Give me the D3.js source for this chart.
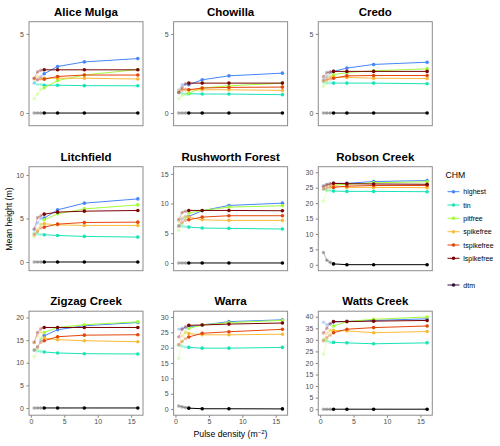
<!DOCTYPE html>
<html><head><meta charset="utf-8">
<script src="https://cdn.jsdelivr.net/npm/d3@7"></script>
<style>body{margin:0;background:#fff}svg{display:block;font-family:"Liberation Sans",Arial,Helvetica,sans-serif}</style>
</head><body>
<svg id="c" width="500" height="446"></svg>
<script>
// ---- data ----
const sites = ["Alice Mulga","Chowilla","Credo","Litchfield","Rushworth Forest","Robson Creek","Zigzag Creek","Warra","Watts Creek"];
const densities = [0.5, 1, 1.5, 2, 4, 8, 16];   // pulse density (m^-2); first three are faded
const fadedBelow = 2;
const chmNames = ["highest","tin","pitfree","spikefree","tspikefree","lspikefree","dtm"];
const chmColors = ["#4686FB","#1AE4B6","#A2FC3C","#FABA39","#E4460A","#7A0403","#30123B"];
// per-site domains of mean height axis
const yDomains = [[-0.8,5.77],[-0.8,5.77],[-0.8,5.77],[-1.0,10.95],[-1.3,16.2],[-1.9,31.8],[-1.6,21.4],[-2.0,31.9],[-2.6,42.4]];
const yTickStep = 5;
const xTicks = [0,5,10,15];

const highest = [
 [1.9,2.1,2.3,2.48,2.94,3.23,3.44],
 [1.45,1.8,1.8,1.79,2.1,2.35,2.52],
 [2.1,2.3,2.55,2.63,2.84,3.07,3.21],
 [3.7,4.5,5.0,5.04,5.99,6.76,7.25],
 [6.2,7.4,7.8,7.83,8.79,9.68,10.07],
 [25.5,26.0,26.3,26.4,26.4,27.0,27.3],
 [12.8,13.5,15.0,15.97,17.3,18.17,18.9],
 [26.0,26.3,26.5,26.75,27.4,28.5,29.1],
 [37.6,36.5,37.0,37.7,38.0,38.4,39.1]];
const tin = [
 [1.9,1.8,1.8,1.76,1.76,1.73,1.72],
 [1.3,1.25,1.2,1.22,1.2,1.2,1.16],
 [1.95,1.9,1.9,1.89,1.89,1.89,1.85],
 [3.3,3.2,3.15,3.13,3.05,2.94,2.86],
 [6.3,6.2,6.1,6.04,5.88,5.82,5.71],
 [24.5,24.2,24.0,23.9,23.8,23.8,23.7],
 [12.8,12.6,12.5,12.38,12.16,12.0,11.94],
 [20.8,20.5,20.2,20.1,19.85,19.85,20.1],
 [30.0,29.5,29.0,28.9,28.7,28.3,28.7]];
const pitfree = [
 [0.9,1.2,1.5,1.6,2.05,2.4,2.75],
 [0.9,1.1,1.2,1.26,1.58,1.72,1.89],
 [1.7,2.0,2.3,2.42,2.56,2.67,2.79],
 [2.9,3.5,4.3,4.85,5.53,6.1,6.56],
 [5.5,6.6,7.5,8.4,8.84,9.4,9.63],
 [20.7,24.0,25.0,25.9,26.1,26.6,26.9],
 [11.3,13.0,15.5,16.7,17.8,18.4,19.05],
 [16.5,22.0,25.0,26.3,27.4,28.2,28.9],
 [23.8,30.0,34.0,36.0,37.9,38.9,39.9]];
const spikefree = [
 [2.1,2.3,2.2,2.2,2.2,2.2,2.15],
 [1.4,1.5,1.45,1.47,1.47,1.47,1.43],
 [2.0,2.2,2.3,2.27,2.25,2.2,2.18],
 [3.2,3.8,4.3,4.39,4.27,4.2,4.2],
 [7.0,7.6,7.8,7.72,7.27,7.16,7.16],
 [25.0,25.8,26.0,25.7,25.1,25.1,25.0],
 [14.5,16.0,16.8,15.46,15.1,14.87,14.65],
 [21.0,24.0,25.0,24.6,24.2,24.2,24.4],
 [30.0,33.0,34.0,34.1,33.9,33.1,33.6]];
const tspikefree = [
 [2.2,2.1,2.15,2.14,2.31,2.4,2.4],
 [1.3,1.45,1.5,1.47,1.58,1.62,1.64],
 [2.05,2.1,2.15,2.2,2.35,2.37,2.37],
 [3.1,3.5,3.9,4.0,4.35,4.54,4.58],
 [6.2,6.8,7.2,7.27,7.72,7.95,7.95],
 [24.5,25.0,25.2,25.1,25.5,25.7,25.7],
 [12.8,13.5,14.5,14.87,15.75,16.1,16.2],
 [21.0,22.0,23.0,23.5,24.7,25.2,26.0],
 [29.5,31.0,32.0,33.1,34.6,35.3,36.0]];
const lspikefree = [
 [2.2,2.6,2.7,2.73,2.73,2.73,2.73],
 [1.3,1.6,1.85,1.89,1.89,1.89,1.89],
 [2.3,2.55,2.6,2.63,2.63,2.63,2.63],
 [3.8,5.1,5.3,5.5,5.73,5.84,5.92],
 [7.3,8.5,8.7,8.84,8.84,8.84,8.79],
 [25.5,26.0,26.2,26.4,26.3,26.2,26.1],
 [14.5,16.7,17.5,17.8,17.8,17.8,17.8],
 [23.5,26.0,26.8,27.3,27.4,27.7,28.05],
 [33.0,35.0,37.0,37.9,37.9,38.1,38.4]];
const dtm = [
 [0,0,0,0,0,0,0],
 [0,0,0,0,0,0,0],
 [0,0,0,0,0,0,0],
 [0,0,0,0,0,0,0],
 [0,0,0,0,0,0,0],
 [4.0,1.5,0.8,0.3,0.05,0.05,0.05],
 [0,0,0,0,0,0,0],
 [1.0,0.7,0.5,0.3,0.1,0.1,0.05],
 [0,0,0,0,0,0,0]];
const chmValues = [highest,tin,pitfree,spikefree,tspikefree,lspikefree,dtm];

// ---- layout ----
const svg = d3.select("#c");
const panelW = 114, panelH = 104;
const colLeft = [29, 173.6, 318.3], rowTop = [21.7, 166.7, 311.2];
const xDomain = [-0.275, 16.775];
const plotColor = (i) => i === 6 ? "#000000" : chmColors[i];
const tickFont = "7px";

sites.forEach((site, si) => {
  const col = si % 3, row = Math.floor(si / 3);
  const L = colLeft[col], T = rowTop[row];
  const g = svg.append("g").attr("transform", `translate(${L},${T})`);
  const x = d3.scaleLinear().domain(xDomain).range([0, panelW]);
  const y = d3.scaleLinear().domain(yDomains[si]).range([panelH, 0]);

  g.append("rect").attr("width", panelW).attr("height", panelH).attr("fill", "#fff");

  // y axis
  const yTicks = d3.range(0, yDomains[si][1], yTickStep);
  const ya = g.append("g").call(d3.axisLeft(y).tickValues(yTicks).tickSize(2.5).tickPadding(2.5).tickFormat(d3.format("d")));
  ya.select(".domain").remove();
  ya.selectAll("line").attr("stroke", "#333").attr("stroke-width", 0.6);
  ya.selectAll("text").attr("fill", "#4D4D4D").style("font-size", tickFont).style("font-family", "Liberation Sans, Arial, sans-serif");

  if (row === 2) {
    const xa = g.append("g").attr("transform", `translate(0,${panelH})`)
      .call(d3.axisBottom(x).tickValues(xTicks).tickSize(2.5).tickPadding(1.5).tickFormat(d3.format("d")));
    xa.select(".domain").remove();
    xa.selectAll("line").attr("stroke", "#333").attr("stroke-width", 0.6);
    xa.selectAll("text").attr("fill", "#4D4D4D").style("font-size", tickFont).style("font-family", "Liberation Sans, Arial, sans-serif");
  }

  const line = d3.line().x(d => x(d[0])).y(d => y(d[1]));
  chmValues.forEach((series, ci) => {
    const pts = densities.map((d, k) => [d, series[si][k]]);
    const faded = pts.filter(p => p[0] <= fadedBelow);
    const c = plotColor(ci);
    g.append("path").attr("d", line(faded)).attr("fill", "none").attr("stroke", c).attr("stroke-width", 0.9).attr("opacity", 0.3);
    g.selectAll(null).data(faded.filter(p => p[0] < fadedBelow)).enter().append("circle")
      .attr("cx", d => x(d[0])).attr("cy", d => y(d[1])).attr("r", 1.8).attr("fill", c).attr("opacity", 0.3);
  });
  chmValues.forEach((series, ci) => {
    const pts = densities.map((d, k) => [d, series[si][k]]);
    const solid = pts.filter(p => p[0] >= fadedBelow);
    const c = plotColor(ci);
    g.append("path").attr("d", line(solid)).attr("fill", "none").attr("stroke", c).attr("stroke-width", 1);
    g.selectAll(null).data(solid).enter().append("circle")
      .attr("cx", d => x(d[0])).attr("cy", d => y(d[1])).attr("r", 1.8).attr("fill", c);
  });

  g.append("rect").attr("width", panelW).attr("height", panelH).attr("fill", "none").attr("stroke", "#8c8c8c").attr("stroke-width", 1);

  svg.append("text").attr("x", L + panelW / 2).attr("y", T - 5.8).attr("text-anchor", "middle")
    .style("font-size", "11.5px").style("font-weight", "bold").attr("fill", "#000").text(site);
});

// axis titles
svg.append("text").attr("transform", "translate(11.5,219) rotate(-90)").attr("text-anchor", "middle")
  .style("font-size", "8.7px").attr("fill", "#000").text("Mean height (m)");
const xt = svg.append("text").attr("x", 230.5).attr("y", 437).attr("text-anchor", "middle").style("font-size", "8.7px").attr("fill", "#000");
xt.append("tspan").text("Pulse density (m");
xt.append("tspan").attr("dy", -3.5).style("font-size", "6px").text("\u22122");
xt.append("tspan").attr("dy", 3.5).text(")");

// legend
const lg = svg.append("g");
lg.append("text").attr("x", 445.5).attr("y", 178.3).style("font-size", "8.7px").attr("fill", "#000").text("CHM");
const legY = [191.7, 205, 218.3, 231.7, 245, 258.3, 285];
chmNames.forEach((n, i) => {
  const yy = legY[i];
  lg.append("line").attr("x1", 447.5).attr("x2", 459.5).attr("y1", yy).attr("y2", yy).attr("stroke", chmColors[i]).attr("stroke-width", 1);
  lg.append("circle").attr("cx", 453.5).attr("cy", yy).attr("r", 1.8).attr("fill", chmColors[i]);
  lg.append("text").attr("x", 463.3).attr("y", yy + 2.5).style("font-size", "7px").attr("fill", "#000").text(n);
});
</script>
</body></html>
